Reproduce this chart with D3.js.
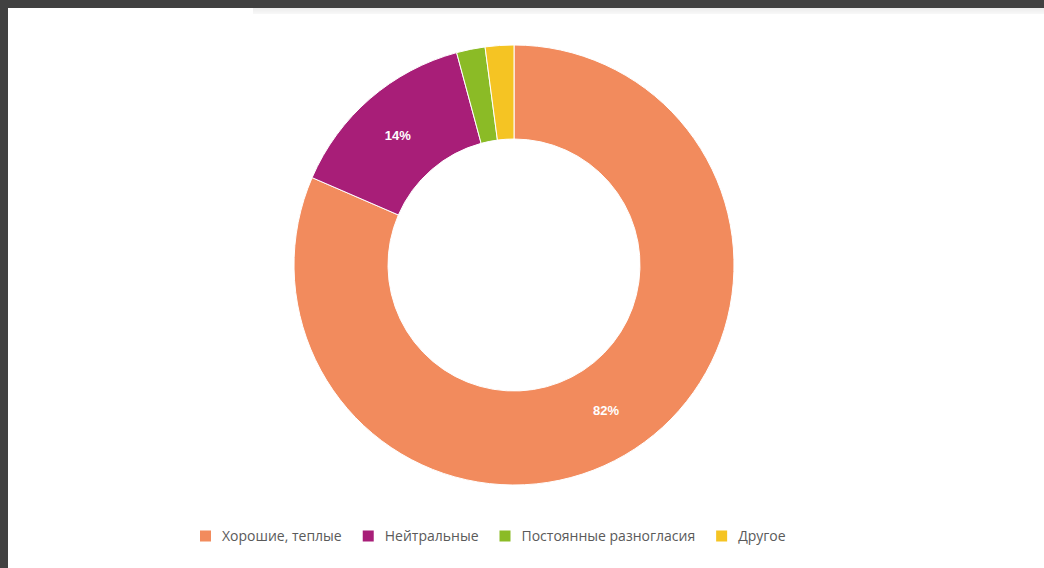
<!DOCTYPE html>
<html>
<head>
<meta charset="utf-8">
<script src="https://cdn.jsdelivr.net/npm/d3@7"></script>
<style>
  html, body { margin: 0; padding: 0; background: #ffffff; }
  svg { display: block; }
</style>
</head>
<body>
<svg id="chart" width="1044" height="568"></svg>
<script>
// ---- data ----
const categories = ["Хорошие, теплые", "Нейтральные", "Постоянные разногласия", "Другое"];
const values = [81.5, 14.3, 2.1, 2.1];
const colors = ["#f28b5d", "#a81e78", "#8bbb26", "#f5c423"];

const W = 1044, H = 568;
const svg = d3.select("#chart");

// page frame (screenshot border)
svg.append("rect").attr("x", 0).attr("y", 0).attr("width", W).attr("height", H).attr("fill", "#ffffff");
const grad = svg.append("defs").append("linearGradient").attr("id", "strip").attr("x1", 0).attr("x2", 0).attr("y1", 0).attr("y2", 1);
grad.append("stop").attr("offset", "0%").attr("stop-color", "#ececec");
grad.append("stop").attr("offset", "100%").attr("stop-color", "#f8f8f8");
svg.append("rect").attr("x", 253).attr("y", 8).attr("width", W - 253).attr("height", 6).attr("fill", "url(#strip)");
svg.append("rect").attr("x", 0).attr("y", 0).attr("width", W).attr("height", 8).attr("fill", "#414141");
svg.append("rect").attr("x", 0).attr("y", 0).attr("width", 8).attr("height", H).attr("fill", "#414141");

// ---- donut ----
const cx = 514, cy = 265, rOuter = 220, rInner = 126;
const data = categories.map((c, i) => ({ name: c, value: values[i], color: colors[i] }));
const pie = d3.pie().value(d => d.value).sort(null);
const arc = d3.arc().innerRadius(rInner).outerRadius(rOuter);
const arcs = pie(data);

const g = svg.append("g").attr("transform", `translate(${cx},${cy})`);
g.selectAll("path.slice").data(arcs).enter().append("path")
  .attr("class", "slice")
  .attr("d", arc)
  .attr("fill", d => d.data.color)
  .attr("stroke", "#ffffff")
  .attr("stroke-width", 1);

const total = d3.sum(values);
g.selectAll("text.lbl").data(arcs.filter(d => d.data.value / total > 0.05)).enter().append("text")
  .attr("class", "lbl")
  .attr("transform", d => { const p = arc.centroid(d); return `translate(${p[0] - 3},${p[1] + 1})`; })
  .attr("text-anchor", "middle")
  .attr("dy", "0.35em")
  .attr("fill", "#ffffff")
  .attr("font-family", "'Liberation Sans', Arial, sans-serif")
  .attr("font-weight", "bold")
  .attr("font-size", 13)
  .text(d => Math.round(d.data.value / total * 100) + "%");

// ---- legend ----
const legend = svg.append("g").attr("transform", "translate(200,536)");
let x = 0;
const textOffset = 22, gap = 21;
data.forEach((d, i) => {
  const item = legend.append("g").attr("transform", `translate(${x},0)`);
  item.append("rect").attr("x", 0).attr("y", -5.5).attr("width", 11).attr("height", 11).attr("fill", d.color);
  const t = item.append("text").attr("x", textOffset).attr("y", 0).attr("dy", "0.35em")
    .attr("font-family", "'Open Sans', sans-serif")
    .attr("font-size", 14)
    .attr("fill", "#5a5a5a")
    .text(d.name);
  const w = t.node().getComputedTextLength();
  x += textOffset + w + gap;
});
</script>
</body>
</html>
